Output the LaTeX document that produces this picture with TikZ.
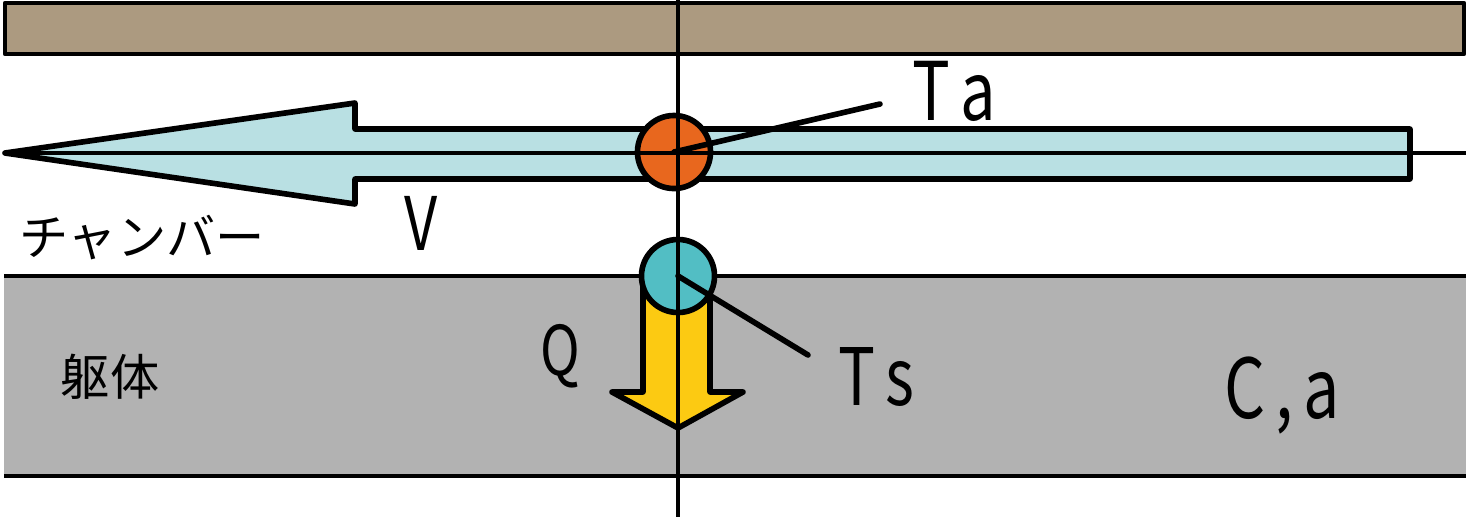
\documentclass[tikz,border=0pt]{standalone}
\usepackage{fontspec}
\usepackage{xcolor}
\usepackage{tikz}
\usetikzlibrary{positioning}
\newfontfamily\jp{Noto Sans CJK JP}
\newfontfamily\lat[FakeStretch=0.78]{Noto Sans CJK JP}
\definecolor{beam}{HTML}{AC9A80}
\definecolor{flow}{HTML}{B9E0E3}
\definecolor{wall}{HTML}{B2B2B2}
\definecolor{air}{HTML}{E8671E}
\definecolor{surf}{HTML}{52BEC4}
\definecolor{heat}{HTML}{FCCA12}
\tikzset{edge/.style={draw=black,line width=1.6pt,line join=round},thinln/.style={draw=black,line width=0.9pt},probe/.style={circle,draw=black,line width=1.6pt,minimum size=0.73cm,inner sep=0pt},sym/.style={inner sep=0pt,anchor=base west},jlab/.style={inner sep=0pt,font=\jp\fontsize{14}{15}\selectfont}}

\begin{document}
\begin{tikzpicture}[x=0.01cm,y=-0.01cm]
\useasboundingbox (0,0) rectangle (1466,517);
\fill[wall] (4,276) rectangle (1466,476);
\draw[thinln] (4,276)--(1466,276);\draw[thinln] (4,476)--(1466,476);
\draw[edge,line width=1.3pt,fill=beam] (5,3) rectangle (1464,54);
\draw[edge,fill=flow] (5,153)--(355,103)--(355,129)--(1410,129)--(1410,179)--(355,179)--(355,204)--cycle;
\draw[edge,fill=heat] (643,285)--(643,392)--(612,392)--(678,428)--(743,392)--(710,392)--(710,285)--cycle;
\node[probe,fill=air] (ta) at (674,152) {};
\node[probe,fill=surf] (ts) at (678,276) {};
\coordinate (tatip) at (880,104);\coordinate (tstip) at (808,355);
\draw[thinln] (5,153)--(1466,153);
\draw[thinln] (678,0)--(678,517);
\draw[edge,line cap=round] (ta.center)--(tatip);
\draw[edge,line cap=round] (ts.center)--(tstip);
\node[sym,font=\lat\fontsize{23}{24}\selectfont] (talab) at (912,120) {T\hspace{0.12em}a};
\node[sym,font=\lat\fontsize{22.5}{24}\selectfont] (tslab) at (838,405) {T\hspace{0.12em}s};
\node[sym,font=\lat\fontsize{21}{22}\selectfont] (vlab) at (404,250) {V};
\node[sym,font=\lat\fontsize{19.5}{20}\selectfont] (qlab) at (540,375) {Q};
\node[sym,font=\lat\fontsize{23.5}{24}\selectfont\addfontfeature{LetterSpace=12}] (calab) at (1224,418) {C,a};
\node[jlab] (chamber) at (142,238) {チャンバー};
\node[jlab] (body) at (110,377) {躯体};
\end{tikzpicture}
\end{document}
